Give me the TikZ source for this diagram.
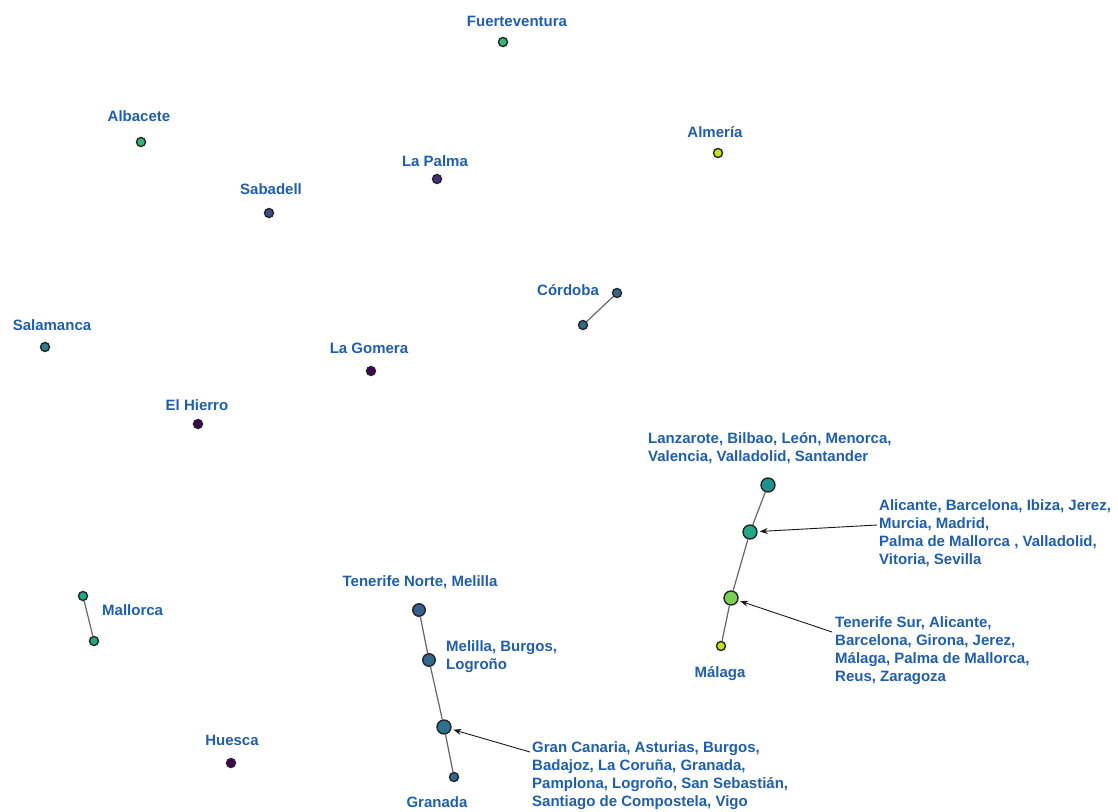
\documentclass[tikz,border=0pt]{standalone}
\usepackage{fontspec}
\setmainfont{Liberation Sans}
\usetikzlibrary{arrows.meta}
\definecolor{labelblue}{HTML}{1F5FAA}
\definecolor{vA}{HTML}{440154}
\definecolor{vB}{HTML}{472D7B}
\definecolor{vC}{HTML}{3E4A89}
\definecolor{vD}{HTML}{355F8D}
\definecolor{vE}{HTML}{31688E}
\definecolor{vF}{HTML}{2C728E}
\definecolor{vG}{HTML}{277F8E}
\definecolor{vH}{HTML}{21918C}
\definecolor{vI}{HTML}{22A884}
\definecolor{vJ}{HTML}{35B779}
\definecolor{vK}{HTML}{7AD151}
\definecolor{vL}{HTML}{C8E020}
\tikzset{
  dot/.style={circle, draw=black!85, line width=1.4pt, inner sep=0pt, fill=#1},
  dotS/.style={dot=#1, minimum size=9pt},
  dotM/.style={dot=#1, minimum size=12.5pt},
  dotL/.style={dot=#1, minimum size=14pt},
  lbl/.style={text=labelblue, font=\bfseries\fontsize{15}{18}\selectfont, inner sep=0pt, yshift=-1.5pt},
  blk/.style={lbl, align=left, anchor=west},
  link/.style={draw=black!60, line width=1.2pt},
  callout/.style={draw=black!90, line width=0.9pt, -{Stealth[length=8pt,width=6pt]}, shorten >=2pt}
}
\begin{document}
\begin{tikzpicture}[x=1pt, y=-1pt]
\useasboundingbox (0,0) rectangle (1118,811);

% single airports
\node[dotS=vJ] (fue) at (503,42) {};
\node[lbl] (fueL) at (517,20) {Fuerteventura};
\node[dotS=vJ] (alb) at (141,142) {};
\node[lbl] (albL) at (139,115) {Albacete};
\node[dotS=vB] (lpa) at (437,179) {};
\node[lbl] (lpaL) at (435,160) {La Palma};
\node[dotS=vC] (sab) at (269,213) {};
\node[lbl] (sabL) at (271,188) {Sabadell};
\node[dotS=vL] (alm) at (718,153) {};
\node[lbl] (almL) at (715,131) {Almería};
\node[dotS=vG] (sal) at (45,347) {};
\node[lbl] (salL) at (52,324) {Salamanca};
\node[dotS=vA] (gom) at (371,371) {};
\node[lbl] (gomL) at (369,347) {La Gomera};
\node[dotS=vA] (hie) at (198,424) {};
\node[lbl] (hieL) at (197,404) {El Hierro};
\node[dotS=vA] (hue) at (231,763) {};
\node[lbl] (hueL) at (232,739) {Huesca};

% Córdoba pair
\node[dotS=vE] (cor1) at (617,293) {};
\node[dotS=vE] (cor2) at (583,325) {};
\node[lbl] (corL) at (568,289) {Córdoba};
\draw[link] (cor1) -- (cor2);

% Mallorca pair
\node[dotS=vI] (mal1) at (83,596) {};
\node[dotS=vI] (mal2) at (94,641) {};
\node[lbl, anchor=west] (malL) at (102,609) {Mallorca};
\draw[link] (mal1) -- (mal2);

% Granada chain
\node[dotM=vD] (tn) at (419,610) {};
\node[dotM=vE] (mel) at (429,660) {};
\node[dotL=vF] (gc) at (444,727) {};
\node[dotS=vE] (gra) at (454,777) {};
\draw[link] (tn) -- (mel) -- (gc) -- (gra);
\node[lbl] (tnL) at (420,581) {Tenerife Norte, Melilla};
\node[blk] (melL) at (446,655) {Melilla, Burgos,\\Logroño};
\node[lbl] (graL) at (437,801) {Granada};
\node[blk] (gcL) at (532,774) {Gran Canaria, Asturias, Burgos,\\Badajoz, La Coruña, Granada,\\Pamplona, Logroño, San Sebastián,\\Santiago de Compostela, Vigo};
\coordinate (gcA) at (530,752);
\draw[callout] (gcA) -- (gc);

% Málaga chain
\node[dotL=vH] (lan) at (768,485) {};
\node[dotL=vI] (ali) at (750,532) {};
\node[dotL=vK] (ts) at (731,598) {};
\node[dotS=vL] (mlg) at (721,646) {};
\draw[link] (lan) -- (ali) -- (ts) -- (mlg);
\node[blk] (lanL) at (648,447) {Lanzarote, Bilbao, León, Menorca,\\Valencia, Valladolid, Santander};
\node[blk] (aliL) at (879,532) {Alicante, Barcelona, Ibiza, Jerez,\\Murcia, Madrid,\\Palma de Mallorca , Valladolid,\\Vitoria, Sevilla};
\node[blk] (tsL) at (835,649) {Tenerife Sur, Alicante,\\Barcelona, Girona, Jerez,\\Málaga, Palma de Mallorca,\\Reus, Zaragoza};
\node[lbl] (mlgL) at (720,672) {Málaga};
\coordinate (aliA) at (877,525);
\coordinate (tsA) at (832,632);
\draw[callout] (aliA) -- (ali);
\draw[callout] (tsA) -- (ts);
\end{tikzpicture}
\end{document}
